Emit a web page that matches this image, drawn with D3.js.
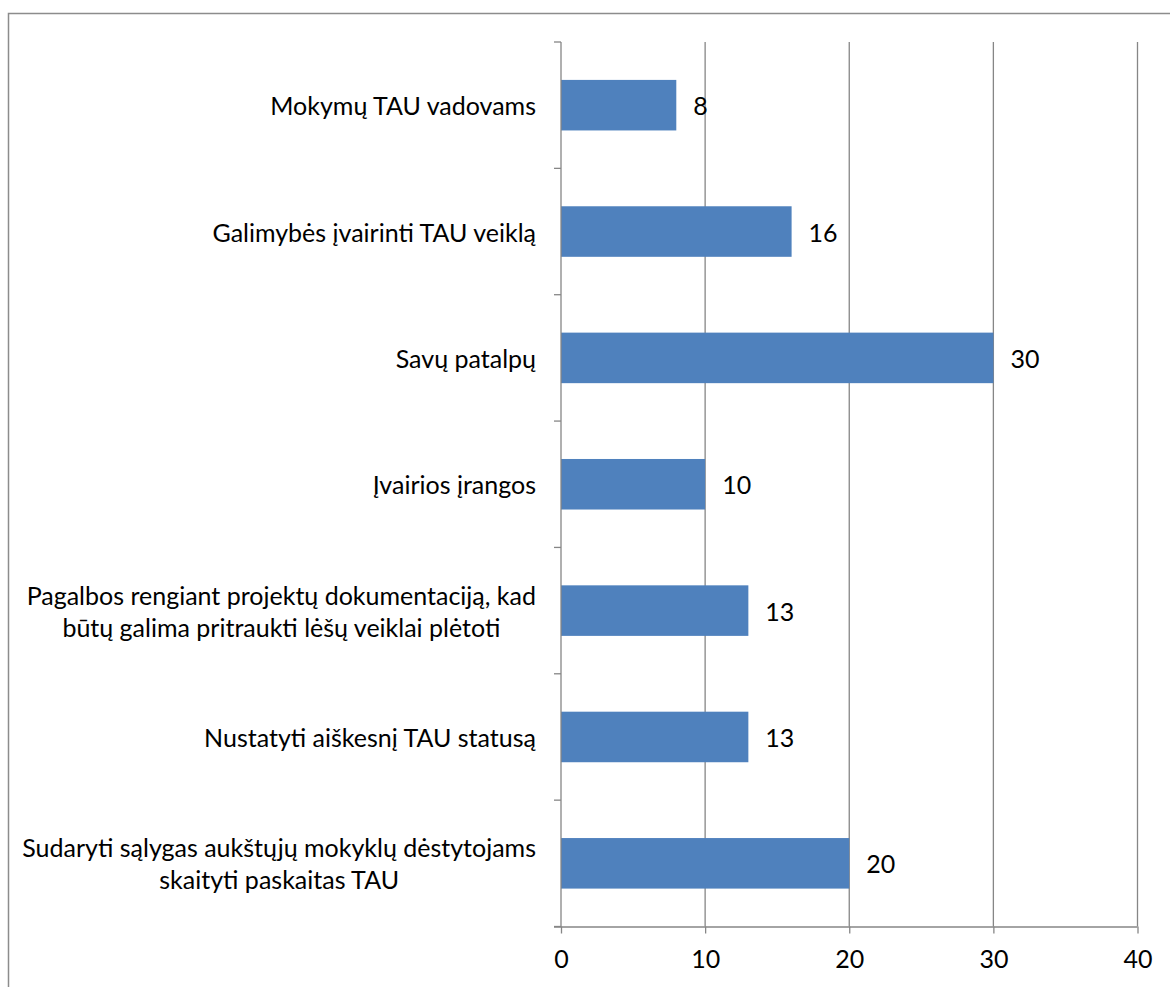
<!DOCTYPE html>
<html>
<head>
<meta charset="utf-8">
<script src="https://cdn.jsdelivr.net/npm/d3@7/dist/d3.min.js"></script>
<style>
  html, body { margin: 0; padding: 0; background: #fff; }
  svg { display: block; }
  text { font-family: "Lato", "Open Sans", sans-serif; fill: #000; }
</style>
</head>
<body>
<svg id="chart" width="1170" height="987"></svg>
<script>
const categories = [
  "Mokymų TAU vadovams",
  "Galimybės įvairinti TAU veiklą",
  "Savų patalpų",
  "Įvairios įrangos",
  "Pagalbos rengiant projektų dokumentaciją, kad\nbūtų galima pritraukti lėšų veiklai plėtoti",
  "Nustatyti aiškesnį TAU statusą",
  "Sudaryti sąlygas aukštųjų mokyklų dėstytojams\nskaityti paskaitas TAU"
];
const values = [8, 16, 30, 10, 13, 13, 20];
const xTicks = [0, 10, 20, 30, 40];

const svg = d3.select("#chart");
const gridColor = "#868686";
const fontSize = 25;

// frame
svg.append("rect")
  .attr("x", 8.5).attr("y", 13.5)
  .attr("width", 1200).attr("height", 1000)
  .attr("fill", "none").attr("stroke", "#8c8c8c").attr("stroke-width", 1.5);

const plotLeft = 561, plotRight = 1137.5, plotTop = 42, plotBottom = 926.5;

const x = d3.scaleLinear().domain([0, 40]).range([plotLeft, plotRight]);
const y = d3.scaleBand().domain(categories).range([plotTop, plotBottom])
  .paddingInner(0.6).paddingOuter(0.3);

// vertical gridlines
svg.append("g").selectAll("line").data(xTicks.slice(1)).join("line")
  .attr("x1", d => x(d)).attr("x2", d => x(d))
  .attr("y1", plotTop).attr("y2", plotBottom)
  .attr("stroke", gridColor).attr("stroke-width", 1.3);

// bars
svg.append("g").selectAll("rect").data(categories).join("rect")
  .attr("x", x(0))
  .attr("y", d => y(d))
  .attr("width", (d, i) => x(values[i]) - x(0))
  .attr("height", y.bandwidth())
  .attr("fill", "#4F81BD");

// x axis
const xAxis = d3.axisBottom(x).tickValues(xTicks).tickSize(7).tickPadding(17)
  .tickFormat(d3.format("d"));
const gx = svg.append("g").attr("transform", `translate(0,${plotBottom})`).call(xAxis);
gx.select(".domain").attr("stroke", gridColor).attr("stroke-width", 1.3)
  .attr("d", `M${plotLeft - 7},0.5H${plotRight}`);
gx.selectAll(".tick line").attr("stroke", gridColor).attr("stroke-width", 1.3);
gx.selectAll(".tick text").attr("font-size", fontSize).attr("font-family", "Lato, 'Open Sans', sans-serif").attr("fill", "#000");

// y axis line and ticks at band boundaries
const boundaries = d3.range(categories.length + 1).map(i => plotTop + i * (plotBottom - plotTop) / categories.length);
svg.append("line")
  .attr("x1", plotLeft).attr("x2", plotLeft)
  .attr("y1", plotTop).attr("y2", plotBottom)
  .attr("stroke", gridColor).attr("stroke-width", 1.3);
svg.append("g").selectAll("line").data(boundaries).join("line")
  .attr("x1", plotLeft - 7).attr("x2", plotLeft)
  .attr("y1", d => d).attr("y2", d => d)
  .attr("stroke", gridColor).attr("stroke-width", 1.3);

// category labels
const labelRight = plotLeft - 25;
const lineGap = 32;
categories.forEach(c => {
  const lines = c.split("\n");
  const cy = y(c) + y.bandwidth() / 2;
  const g = svg.append("g");
  const texts = lines.map((ln, k) => g.append("text")
    .attr("font-size", fontSize)
    .attr("dominant-baseline", "central")
    .attr("text-anchor", "middle")
    .attr("y", cy + (k - (lines.length - 1) / 2) * lineGap)
    .text(ln));
  const maxW = d3.max(texts, t => t.node().getComputedTextLength());
  texts.forEach(t => t.attr("x", labelRight - maxW / 2));
});

// value labels
svg.append("g").selectAll("text").data(categories).join("text")
  .attr("x", (d, i) => x(values[i]) + 17)
  .attr("y", d => y(d) + y.bandwidth() / 2)
  .attr("dominant-baseline", "central")
  .attr("font-size", fontSize)
  .text((d, i) => values[i]);
</script>
</body>
</html>
